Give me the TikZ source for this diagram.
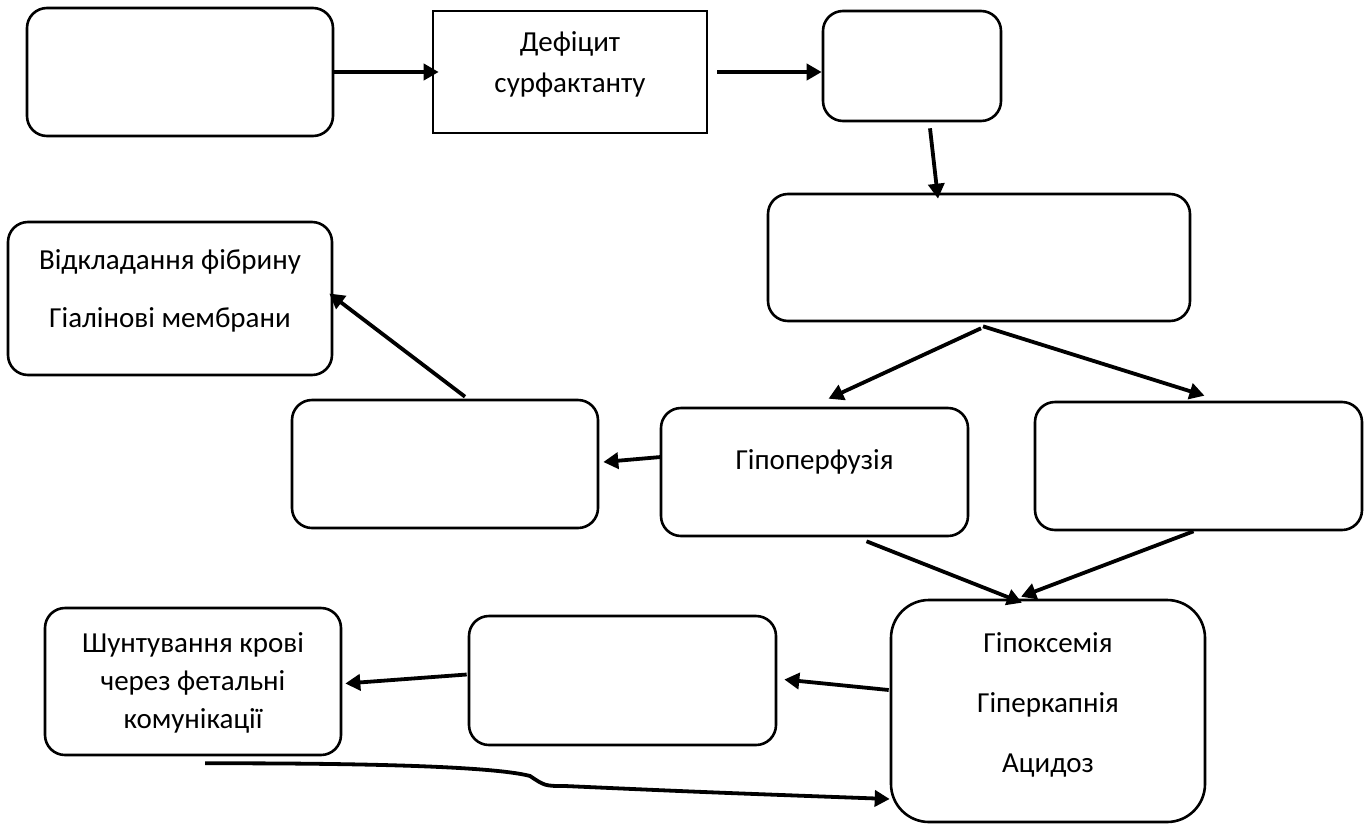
\documentclass[tikz,border=0pt]{standalone}
\usepackage{fontspec}
\setmainfont{Carlito}
\usetikzlibrary{positioning,arrows.meta}
\tikzset{
  roundbox/.style={draw, rounded corners=20pt, line width=2.6pt, align=center, inner sep=0pt,
                   minimum width=306pt, minimum height=128pt, font=\fontsize{29}{36}\selectfont},
  plainbox/.style={roundbox, sharp corners},
  fwd/.style={-{Triangle[length=15pt,width=16pt]}, line width=3.8pt},
}
\begin{document}
\begin{tikzpicture}[x=1pt, y=-1pt]
  \useasboundingbox (0,0) rectangle (1370,825);

  \node[roundbox] (cause) at (180,72) {};
  \node[plainbox, minimum width=274pt, minimum height=122pt, text depth=19pt] (deficit) at (570,72) {Дефіцит\\[5pt]сурфактанту};
  \node[roundbox, minimum width=178pt, minimum height=110pt] (collapse) at (912,66) {};
  \node[roundbox, minimum width=422pt, minimum height=127pt] (ventil) at (979,257.5) {};
  \node[roundbox, minimum width=324pt, minimum height=153pt, text depth=19pt] (fibrin) at (170,298.5) {Відкладання фібрину\\[22pt]Гіалінові мембрани};
  \node[roundbox] (damage) at (445,464) {};
  \node[roundbox, minimum width=307pt, text depth=24pt] (hypoperf) at (814.5,472) {Гіпоперфузія};
  \node[roundbox, minimum width=327pt] (right) at (1198.5,466) {};
  \node[roundbox, rounded corners=38pt, minimum width=314pt, minimum height=222pt, text depth=16pt] (gases) at (1048,711) {Гіпоксемія\\[24pt]Гіперкапнія\\[24pt]Ацидоз};
  \node[roundbox, minimum width=307pt, minimum height=129pt] (pulm) at (622.5,680.5) {};
  \node[roundbox, minimum width=296pt, minimum height=147pt, text depth=2pt,
        font=\fontsize{29}{38}\selectfont] (shunt) at (193,681.5) {Шунтування крові\\через фетальні\\комунікації};

  \draw[fwd] (cause.east) -- ([xshift=7pt]deficit.west);
  \draw[fwd] ([xshift=9pt]deficit.east) -- (deficit.east -| collapse.west);
  \draw[fwd] ([shift={(18,6)}]collapse.south) -- ([shift={(-41,6)}]ventil.north);
  \draw[fwd] ([shift={(2,6)}]ventil.south) -- ([shift={(14,-8)}]hypoperf.north);
  \draw[fwd] ([shift={(4,4)}]ventil.south) -- ([shift={(6,-5)}]right.north);
  \draw[fwd] ([shift={(1,-15)}]hypoperf.west) -- ([shift={(4,-2)}]damage.east);
  \draw[fwd] ([shift={(20,-2)}]damage.north) -- ([shift={(-4,-5)}]fibrin.east);
  \draw[fwd] ([shift={(52,4)}]hypoperf.south) -- ([shift={(-26,4)}]gases.north);
  \draw[fwd] ([shift={(-5,0)}]right.south) -- ([shift={(-27,-2)}]gases.north);
  \draw[fwd] ([shift={(-1,-21)}]gases.west) -- ([shift={(7,-1)}]pulm.east);
  \draw[fwd] ([shift={(-1,-6)}]pulm.west) -- ([shift={(3,2)}]shunt.east);

  \coordinate (shuntout) at ([shift={(12,7)}]shunt.south);
  \draw[fwd] (shuntout) .. controls (400,763) and (500,768) .. (530,776)
    .. controls (545,786) .. (565,786) .. controls (700,792) .. ([shift={(0,88)}]gases.west);

\end{tikzpicture}
\end{document}
